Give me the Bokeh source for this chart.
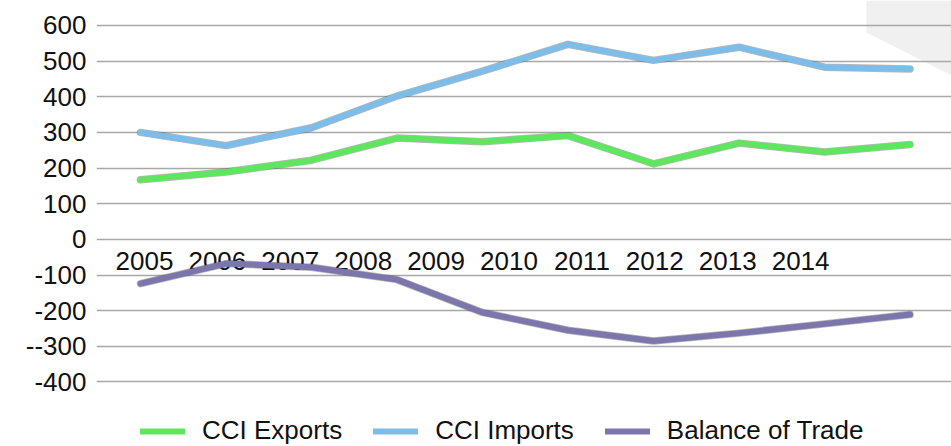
from bokeh.plotting import figure
from bokeh.models import Range1d, Legend, LegendItem, PolyAnnotation, FixedTicker
from bokeh.core.properties import value
from bokeh.embed import file_html
from bokeh.resources import INLINE

# ---- data ----
years = ["2005", "2006", "2007", "2008", "2009", "2010", "2011", "2012", "2013", "2014"]
cci_exports = [167, 189, 222, 284, 274, 291, 212, 270, 245, 266]
cci_imports = [300, 263, 313, 402, 472, 547, 502, 539, 483, 478]
balance_of_trade = [-124, -68, -78, -113, -205, -255, -285, -263, -237, -211]
y_ticks = [600, 500, 400, 300, 200, 100, 0, -100, -200, -300, -400]
y_tick_labels = ["600", "500", "400", "300", "200", "100", "0", "-100", "-200", "--300", "-400"]
series_names = ["CCI Exports", "CCI Imports", "Balance of Trade"]
series_colors = ["#5ee65e", "#7dbde9", "#7b76ab"]

idx = list(range(len(years)))
FONT = "Liberation Sans"

# frame covers the whole height; the space below -400 holds the legend
p = figure(width=951, height=446, output_backend="svg", toolbar_location=None,
           x_range=Range1d(-0.515, 9.485), y_range=Range1d(-581, 670),
           min_border_left=96, min_border_right=0, min_border_top=0, min_border_bottom=0)
p.outline_line_color = None
p.background_fill_color = "white"
p.border_fill_color = "white"

# extra range for the (offset) category labels
p.extra_x_ranges["labels"] = Range1d(-0.658, 11.07)

# light decorative corner shape (screen units, relative to the frame's bottom-left)
corner = PolyAnnotation(xs=[770, 855, 855, 770], ys=[446, 446, 371, 414],
                        xs_units="screen", ys_units="screen",
                        fill_color="#f0f0f0", fill_alpha=1.0, line_alpha=0, level="image")
p.add_layout(corner)

# axes
p.xaxis.visible = False
p.xgrid.grid_line_color = None
p.yaxis.ticker = FixedTicker(ticks=y_ticks)
p.yaxis.major_label_overrides = {t: l for t, l in zip(y_ticks, y_tick_labels)}
p.yaxis.axis_line_color = None
p.yaxis.major_tick_line_color = None
p.yaxis.minor_tick_line_color = None
p.yaxis.major_tick_in = 0
p.yaxis.major_tick_out = 0
p.yaxis.major_label_standoff = 10
p.yaxis.major_label_text_font = FONT
p.yaxis.major_label_text_font_size = "26px"
p.yaxis.major_label_text_color = "#111111"
p.ygrid.ticker = FixedTicker(ticks=y_ticks)
p.ygrid.grid_line_color = "#a8a8a8"
p.ygrid.grid_line_width = 1.5

# category labels sitting at the zero line (drawn under the lines)
p.text(x=idx, y=[0] * len(idx), text=years, x_range_name="labels",
       text_align="center", text_baseline="top", y_offset=13,
       text_font=value(FONT), text_font_size="26px", text_color="#111111")

# series
renderers = []
for vals, col in zip([cci_exports, cci_imports, balance_of_trade], series_colors):
    p.line(idx, vals, line_width=7.5, line_color="#333333", line_alpha=0.35,
           line_cap="round", line_join="round")
    r = p.line(idx, vals, line_width=6, line_color=col,
               line_cap="round", line_join="round")
    renderers.append(r)

legend = Legend(items=[LegendItem(label=n, renderers=[r]) for n, r in zip(series_names, renderers)],
                orientation="horizontal", location=(44, 0),
                glyph_width=45, glyph_height=20, label_standoff=17, spacing=31,
                padding=0, margin=0, border_line_color=None, background_fill_alpha=0,
                label_text_font=FONT, label_text_font_size="26px", label_text_color="#111111")
p.add_layout(legend, "center")

open("out.html", "w").write(file_html(p, INLINE))
